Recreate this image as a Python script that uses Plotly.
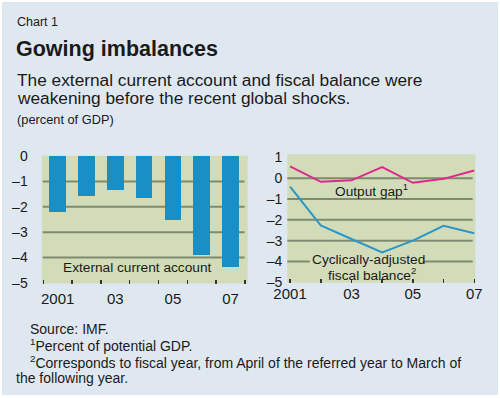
import plotly.graph_objects as go

years = [2001, 2002, 2003, 2004, 2005, 2006, 2007]
current_account = [-2.2, -1.58, -1.35, -1.67, -2.53, -3.92, -4.37]
output_gap = [0.57, -0.17, -0.1, 0.53, -0.22, -0.03, 0.37]
fiscal_balance = [-0.4, -2.27, -2.92, -3.57, -3.0, -2.29, -2.64]
year_tick_vals = [2001, 2003, 2005, 2007]
year_tick_labels = ["2001", "03", "05", "07"]
left_y_ticks = [0, -1, -2, -3, -4, -5]
right_y_ticks = [1, 0, -1, -2, -3, -4, -5]

BG = "#dfe8f1"
GREEN = "#d2dcb9"
BLUE = "#1a8fc5"
LBLUE = "#2b97c9"
MAG = "#e0288c"
GRID = "#7f8a70"
TXT = "#1a1a1a"
SANS = "Liberation Sans, Arial, sans-serif"

W, H = 500, 398
def px(x): return x / W
def py(y): return 1 - y / H

fig = go.Figure()
fig.add_trace(go.Bar(x=years, y=current_account, marker_color=BLUE, marker_line_width=0,
                     width=0.58, xaxis="x", yaxis="y", showlegend=False, hoverinfo="skip"))
fig.add_trace(go.Scatter(x=years, y=output_gap, mode="lines", line=dict(color=MAG, width=2),
                         xaxis="x2", yaxis="y2", showlegend=False, hoverinfo="skip"))
fig.add_trace(go.Scatter(x=years, y=fiscal_balance, mode="lines", line=dict(color=LBLUE, width=2),
                         xaxis="x2", yaxis="y2", showlegend=False, hoverinfo="skip"))

def minus(v):
    return str(v).replace("-", "\u2013")

axfont = dict(family=SANS, size=15, color=TXT)
yfont = dict(family=SANS, size=14, color=TXT)

shapes = []
for v in [-1, -2, -3, -4]:
    shapes.append(dict(type="line", xref="x domain", yref="y", x0=0.005, x1=0.985, y0=v, y1=v,
                       line=dict(color=GRID, width=2), layer="below"))
for v in [0, -1, -2, -3]:
    shapes.append(dict(type="line", xref="x2 domain", yref="y2", x0=0.0, x1=0.985, y0=v, y1=v,
                       line=dict(color=GRID, width=2), layer="below"))
# -4 gridline on right panel, broken behind the label
shapes.append(dict(type="line", xref="x2 domain", yref="y2", x0=0.0, x1=0.12, y0=-4, y1=-4,
                   line=dict(color=GRID, width=2), layer="below"))
shapes.append(dict(type="line", xref="x2 domain", yref="y2", x0=0.72, x1=0.985, y0=-4, y1=-4,
                   line=dict(color=GRID, width=2), layer="below"))
# white frame
shapes.append(dict(type="rect", xref="paper", yref="paper", x0=0, x1=1, y0=0, y1=1,
                   line=dict(color="white", width=4), fillcolor="rgba(0,0,0,0)", layer="above"))
shapes.append(dict(type="rect", xref="paper", yref="paper", x0=0, x1=1, y0=0, y1=py(395),
                   line=dict(width=0), fillcolor="white", layer="above"))

minor_ticks = dict(ticks="inside", ticklen=4, tickwidth=1.5, tickcolor="#333333", showgrid=False)

fig.update_layout(
    width=W, height=H,
    margin=dict(l=0, r=0, t=0, b=0, autoexpand=False),
    paper_bgcolor=BG, plot_bgcolor=GREEN,
    bargap=0, hovermode=False,
    xaxis=dict(domain=[px(41.7), px(247.7)], range=[2000.444, 2007.597], anchor="y",
               tickvals=year_tick_vals, ticktext=year_tick_labels, automargin=False,
               ticks="", showgrid=False, zeroline=False, showline=False,
               tickfont=axfont, ticklabelstandoff=4,
               minor=dict(tickvals=[y - 0.5 for y in years] + [years[-1] + 0.5], **minor_ticks)),
    yaxis=dict(domain=[py(283.5), py(155.7)], range=[-5.03, 0.02], anchor="x", automargin=False,
               tickvals=left_y_ticks, ticktext=[minus(v) for v in left_y_ticks],
               showgrid=False, zeroline=False, showline=False, ticks="",
               tickfont=yfont, ticklabelstandoff=13),
    xaxis2=dict(domain=[px(287.3), px(475.5)], range=[2000.91, 2007.04], anchor="y2",
                tickvals=year_tick_vals, ticktext=year_tick_labels, automargin=False,
                ticks="inside", ticklen=4, tickwidth=1.5, tickcolor="#333333",
                showgrid=False, zeroline=False, showline=False, tickfont=axfont,
                ticklabelstandoff=0,
                minor=dict(tickvals=years, **minor_ticks)),
    yaxis2=dict(domain=[py(282.7), py(154.3)], range=[-5.02, 1.15], anchor="x2", automargin=False,
                tickvals=right_y_ticks, ticktext=[minus(v) for v in right_y_ticks],
                showgrid=False, zeroline=False, showline=False, ticks="",
                tickfont=yfont, ticklabelstandoff=4),
    shapes=shapes,
)

ann = []
def text(x, y, s, size, family=SANS, xanchor="left", bold=False, color=TXT):
    ann.append(dict(xref="paper", yref="paper", x=px(x), y=py(y), text=(f"<b>{s}</b>" if bold else s),
                    showarrow=False, xanchor=xanchor, yanchor="middle",
                    font=dict(family=family, size=size, color=color)))

text(15, 22, "Chart 1", 12.5)
text(14, 49, "Gowing imbalances", 21.5, bold=True)
text(15, 80, "The external current account and fiscal balance were", 17.3)
text(15, 98, "weakening before the recent global shocks.", 17.3)
text(15, 120, "(percent of GDP)", 12.8)

text(137, 267, "External current account", 13.7, xanchor="center")
text(371, 190, "Output gap<sup>1</sup>", 13.7, xanchor="center")
text(368, 259, "Cyclically-adjusted", 13.7, xanchor="center")
text(372, 274, "fiscal balance<sup>2</sup>", 13.7, xanchor="center")

text(28, 329, "Source: IMF.", 14)
text(28, 345, "<sup>1</sup>Percent of potential GDP.", 14)
text(28, 362, "<sup>2</sup>Corresponds to fiscal year, from April of the referred year to March of", 14)
text(14, 378, "the following year.", 14)

fig.update_layout(annotations=ann)
fig.write_html("out.html", config={"displayModeBar": False, "staticPlot": True},
               post_script="document.body.style.margin='0px';document.body.style.overflow='hidden';")
